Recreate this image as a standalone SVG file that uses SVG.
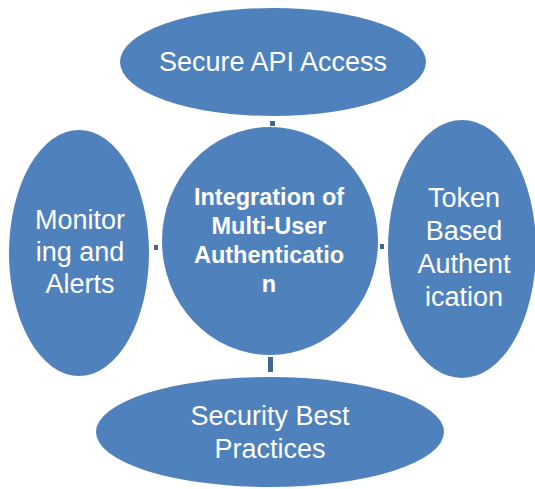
<svg xmlns="http://www.w3.org/2000/svg" width="535" height="489" viewBox="0 0 535 489">
<style>
.node{fill:#4F81BD;}
.lbl{font-family:"Liberation Sans",Arial,sans-serif;font-size:27px;fill:#FFFFFF;text-anchor:middle;}
.ctr{font-family:"Liberation Sans",Arial,sans-serif;font-size:23.5px;font-weight:bold;fill:#FFFFFF;text-anchor:middle;}
.conn{stroke:#3F6796;fill:none;}
</style>
<rect width="535" height="489" fill="#FFFFFF"/>
<g id="connectors">
<line class="conn" x1="272.5" y1="121" x2="272.5" y2="126" stroke-width="5"/>
<line class="conn" x1="154" y1="247.5" x2="158" y2="247.5" stroke-width="5"/>
<line class="conn" x1="380" y1="246.5" x2="384" y2="246.5" stroke-width="5"/>
<line class="conn" x1="270.5" y1="357" x2="270.5" y2="372" stroke-width="5"/>
</g>
<g id="node-top">
<ellipse class="node" cx="273" cy="62" rx="153" ry="54"/>
<text class="lbl" x="273" y="71">Secure API Access</text>
</g>
<g id="node-center">
<ellipse class="node" cx="270" cy="241" rx="108" ry="114"/>
<text class="ctr" x="269" y="205">Integration of</text>
<text class="ctr" x="269" y="234">Multi-User</text>
<text class="ctr" x="269" y="263">Authenticatio</text>
<text class="ctr" x="269" y="292">n</text>
</g>
<g id="node-left">
<ellipse class="node" cx="79" cy="253" rx="70" ry="123"/>
<text class="lbl" x="80" y="229">Monitor</text>
<text class="lbl" x="80" y="261">ing and</text>
<text class="lbl" x="80" y="293">Alerts</text>
</g>
<g id="node-right">
<ellipse class="node" cx="462" cy="249" rx="74" ry="129"/>
<text class="lbl" x="464" y="207">Token</text>
<text class="lbl" x="464" y="240">Based</text>
<text class="lbl" x="464" y="273">Authent</text>
<text class="lbl" x="464" y="306">ication</text>
</g>
<g id="node-bottom">
<ellipse class="node" cx="270" cy="432" rx="174" ry="55"/>
<text class="lbl" x="270" y="425">Security Best</text>
<text class="lbl" x="270" y="458">Practices</text>
</g>
</svg>
